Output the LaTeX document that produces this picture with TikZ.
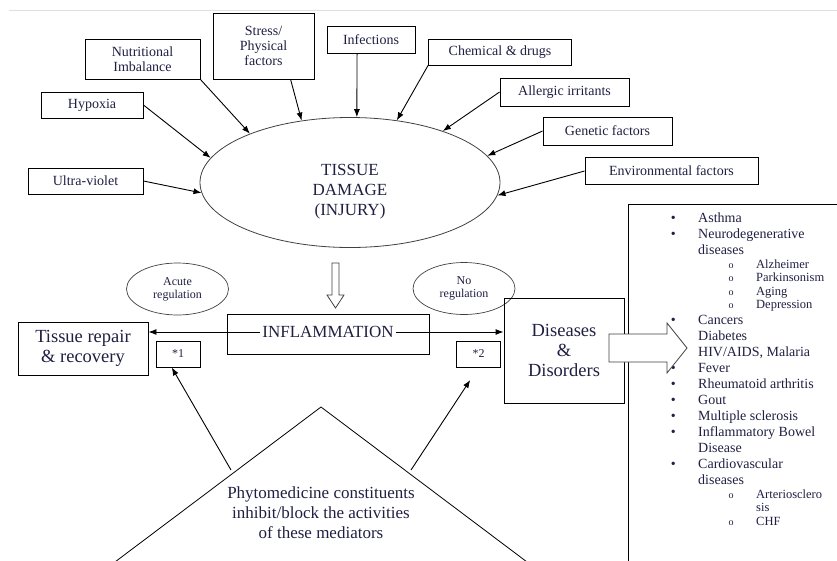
\documentclass[tikz,border=0pt]{standalone}
\usepackage{fontspec}
\setmainfont{Liberation Serif}
\usepackage{array}
\usetikzlibrary{shapes.geometric, arrows.meta, positioning}

\definecolor{inknavy}{rgb}{0.12, 0.12, 0.26}
\colorlet{faintgray}{gray!25}
\colorlet{outlinegray}{black!75}

\newcommand{\listrow}{\rule[-4.5pt]{0pt}{16pt}}
\newcommand{\sublistrow}{\rule[-4pt]{0pt}{13.5pt}}
\newcommand{\sublistfont}{\fontsize{12.5}{13.5}\selectfont}
\newcommand{\subbullet}{{\fontsize{10}{10}\selectfont o}}

\tikzstyle{causestyle} = [rectangle, 
draw=black, 
line width=0.9pt,
inner sep=0pt,
align=center,
text=inknavy,
font=\fontsize{14}{15}\selectfont]
\tikzstyle{injurystyle} = [ellipse, 
draw=outlinegray, 
line width=0.8pt,
minimum width=300pt, 
minimum height=130pt,
inner sep=0pt]
\tikzstyle{bigtextstyle} = [align=center,
text=inknavy,
font=\fontsize{17}{20}\selectfont]
\tikzstyle{regstyle} = [ellipse, 
draw=outlinegray, 
line width=0.7pt,
minimum width=102pt, 
minimum height=52pt,
inner sep=0pt,
align=center,
text=inknavy,
font=\fontsize{12}{13}\selectfont]
\tikzstyle{outcomestyle} = [rectangle, 
draw=black, 
line width=0.9pt,
inner sep=0pt,
align=center,
text=inknavy,
font=\fontsize{18.5}{20}\selectfont]
\tikzstyle{notestyle} = [rectangle, 
draw=black, 
line width=0.9pt,
minimum width=44pt, 
minimum height=26pt,
inner sep=0pt,
text=inknavy,
font=\fontsize{12}{13}\selectfont]
\tikzstyle{liststyle} = [inner sep=0pt,
text=inknavy,
font=\fontsize{14}{16}\selectfont]
\tikzstyle{hollowarrow} = [draw=outlinegray, line width=0.8pt, fill=white]
\tikzstyle{arrow} = [line width=0.9pt,->,>={Latex[length=8pt,width=6pt]}]

\begin{document}
\begin{tikzpicture}[x=1pt, y=-1pt]
\useasboundingbox (0,0) rectangle (837,560);
\clip (0,0) rectangle (837,560);

\draw [faintgray, line width=1pt] (9,10) -- (837,10);

% causes
\node (stress) [causestyle, minimum width=101pt, minimum height=66pt] at (263.5,46) {Stress/\\Physical\\factors};
\node (infect) [causestyle, minimum width=88pt, minimum height=27pt] at (371,39.5) {Infections};
\node (nutri) [causestyle, minimum width=115pt, minimum height=40pt] at (142.5,59) {Nutritional\\Imbalance};
\node (hypoxia) [causestyle, minimum width=102pt, minimum height=26pt] at (92,105) {Hypoxia};
\node (uv) [causestyle, minimum width=115pt, minimum height=26pt] at (85.5,181) {Ultra-violet};
\node (chem) [causestyle, minimum width=143pt, minimum height=26pt] at (500,52) {Chemical \& drugs};
\node (allergic) [causestyle, minimum width=129pt, minimum height=28pt] at (564.5,92) {Allergic irritants};
\node (genetic) [causestyle, minimum width=129pt, minimum height=28pt] at (607.5,131) {Genetic factors};
\node (env) [causestyle, minimum width=173pt, minimum height=27pt] at (671.5,171) {Environmental factors};

\node (injury) [injurystyle] at (350,182.5) {};
\node (injurytext) [bigtextstyle] at (350,192) {TISSUE\\DAMAGE\\(INJURY)};

\node (acute) [regstyle] at (177.5,289) {Acute\\regulation};
\node (noreg) [regstyle] at (464,288.5) {No\\regulation};

\node (inflbox) [rectangle, draw=black, line width=0.9pt, minimum width=202pt, minimum height=40pt] at (328,334) {};
\node (inflword) [bigtextstyle, inner sep=2pt] at (328,332) {INFLAMMATION};

\node (tissue) [outcomestyle, minimum width=130pt, minimum height=53pt] at (83,348.5) {Tissue repair\\\& recovery};
\node (disease) [outcomestyle, minimum width=120pt, minimum height=105pt] at (564,350.5) {Diseases\\\&\\Disorders};
\node (star1) [notestyle] at (178,354) {*1};
\node (star2) [notestyle] at (478.5,354) {*2};

% disorders list
\node (listbox) [rectangle, draw=black, line width=0.9pt, anchor=north west, minimum width=280pt, minimum height=400pt] at (628,204) {};
\node (disorderlist) [liststyle, anchor=north west] at (667,210.5) {%
\renewcommand{\arraystretch}{0}%
\begin{tabular}{@{}>{\centering\arraybackslash}p{12pt}@{\hspace{19pt}}p{27pt}@{}>{\centering\arraybackslash}p{12pt}@{\hspace{19pt}}l@{}}
\textbullet & \multicolumn{3}{@{}l@{}}{Asthma\listrow}\\
\textbullet & \multicolumn{3}{@{}l@{}}{Neurodegenerative\listrow}\\
 & \multicolumn{3}{@{}l@{}}{diseases\listrow}\\
 & & \subbullet & \sublistfont Alzheimer\sublistrow\\
 & & \subbullet & \sublistfont Parkinsonism\sublistrow\\
 & & \subbullet & \sublistfont Aging\sublistrow\\
 & & \subbullet & \sublistfont Depression\sublistrow\\
\textbullet & \multicolumn{3}{@{}l@{}}{Cancers\listrow}\\
\textbullet & \multicolumn{3}{@{}l@{}}{Diabetes\listrow}\\
\textbullet & \multicolumn{3}{@{}l@{}}{HIV/AIDS, Malaria\listrow}\\
\textbullet & \multicolumn{3}{@{}l@{}}{Fever\listrow}\\
\textbullet & \multicolumn{3}{@{}l@{}}{Rheumatoid arthritis\listrow}\\
\textbullet & \multicolumn{3}{@{}l@{}}{Gout\listrow}\\
\textbullet & \multicolumn{3}{@{}l@{}}{Multiple sclerosis\listrow}\\
\textbullet & \multicolumn{3}{@{}l@{}}{Inflammatory Bowel\listrow}\\
 & \multicolumn{3}{@{}l@{}}{Disease\listrow}\\
\textbullet & \multicolumn{3}{@{}l@{}}{Cardiovascular\listrow}\\
 & \multicolumn{3}{@{}l@{}}{diseases\listrow}\\
 & & \subbullet & \sublistfont Arteriosclero\sublistrow\\
 & & & \sublistfont sis\sublistrow\\
 & & \subbullet & \sublistfont CHF\sublistrow\\
\end{tabular}};

% phytomedicine
\coordinate (apex) at (321,407);
\coordinate (baseleft) at (91,580);
\coordinate (baseright) at (551,580);
\draw [line width=0.8pt] (baseleft) -- (apex) -- (baseright);
\node (phyto) [bigtextstyle] at (321,513) {Phytomedicine constituents\\inhibit/block the activities\\of these mediators};
\coordinate (phyleft) at (231,470);
\coordinate (phyright) at (411,470);

% block arrows
\draw [hollowarrow] (332,263) -- (339,263) -- (339,295) -- (344,295) -- (335.5,308) -- (327,295) -- (332,295) -- cycle;
\draw [hollowarrow] (609,334) -- (667,334) -- (667,323) -- (687,348) -- (667,373) -- (667,362) -- (609,362) -- cycle;

\draw [arrow] (uv.east) -- (injury.184);
\draw [arrow] (hypoxia.east) -- (injury.170);
\draw [arrow] (nutri.south east) -- (injury.154);
\draw [arrow] (stress.-51) -- (injury.128);
\draw [arrow] (infect.-135) -- (injury.84);
\draw [arrow] (chem.south west) -- (injury.53);
\draw [arrow] (allergic.west) -- (injury.29);
\draw [arrow] (genetic.west) -- (injury.11);
\draw [arrow] (env.west) -- (injury.355);

\draw [arrow] (inflword.west) -- (inflword.west -| tissue.east);
\draw [arrow] (inflword.east) -- (inflword.east -| disease.west);
\draw [arrow] (phyleft) -- (star1.-115);
\draw [arrow, shorten >=15pt] (phyright) -- (star2.south);
\end{tikzpicture}
\end{document}
